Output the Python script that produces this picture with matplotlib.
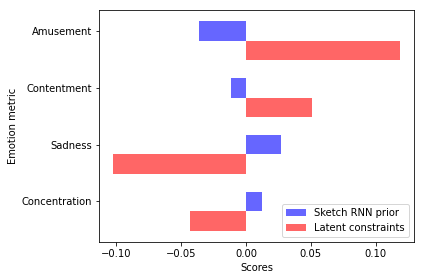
import matplotlib
matplotlib.use("Agg")
import matplotlib.pyplot as plt
import numpy as np

categories = ["Concentration", "Sadness", "Contentment", "Amusement"]
sketch_rnn_prior = [0.0123, 0.027, -0.0115, -0.036]
latent_constraints = [-0.043, -0.1023, 0.0508, 0.1185]

fig = plt.figure(figsize=(424 / 72, 280 / 72), dpi=72)
ax = fig.add_axes([0.2335, 0.136, 0.7425, 0.828])
y = np.arange(len(categories))
h = 0.35
ax.barh(y, sketch_rnn_prior, h, color="blue", alpha=0.6, label="Sketch RNN prior")
ax.barh(y - h, latent_constraints, h, color="red", alpha=0.6, label="Latent constraints")
ax.set_yticks(y)
ax.set_yticklabels(categories)
ax.set_xlabel("Scores")
ax.set_ylabel("Emotion metric")
ax.legend(loc="lower right")
fig.savefig("out.png", dpi=72)
